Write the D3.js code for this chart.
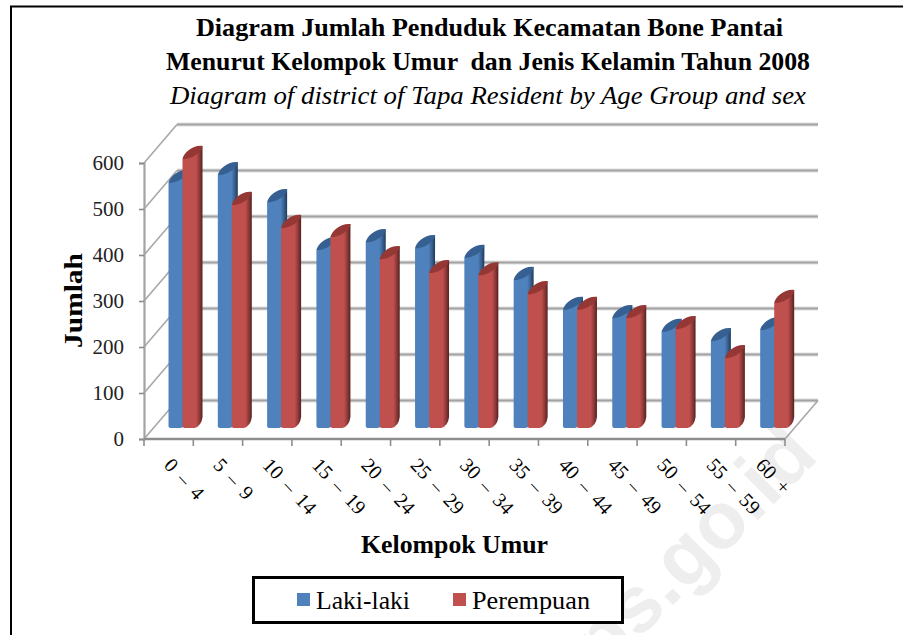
<!DOCTYPE html>
<html>
<head>
<meta charset="utf-8">
<script src="https://cdn.jsdelivr.net/npm/d3@7"></script>
<style>
  html, body { margin: 0; padding: 0; background: #fff; }
  svg { display: block; }
  text { font-family: "Liberation Serif", serif; fill: #000; }
</style>
</head>
<body>
<script>
// data
const ageGroups = ['0 – 4', '5 – 9', '10 – 14', '15 – 19', '20 – 24', '25 – 29', '30 – 34',
  '35 – 39', '40 – 44', '45 – 49', '50 – 54', '55 – 59', '60 +'];
const lakiLaki = [533, 550, 491, 387, 404, 391, 370, 322, 257, 239, 209, 189, 213];
const perempuan = [585, 485, 435, 415, 367, 337, 332, 291, 257, 239, 215, 152, 272];
const seriesNames = ['Laki-laki', 'Perempuan'];
const yTicks = [0, 100, 200, 300, 400, 500, 600];

const titleLines = [
  { text: 'Diagram Jumlah Penduduk Kecamatan Bone Pantai', x: 196, y: 36, len: 587, bold: true },
  { text: 'Menurut Kelompok Umur  dan Jenis Kelamin Tahun 2008', x: 166, y: 70, len: 644, bold: true },
  { text: 'Diagram of district of Tapa Resident by Age Group and sex', x: 170, y: 104, len: 636, italic: true }
];

// basic settings
const width = 903;
const height = 635;
const depthX = 33;
const depthY = 38.5;
const barLift = 11;      // bars stand this far up the floor
const barShift = 24.5;   // first bar from the band edge
const barWidth = 14;
const capX = 6;
const capY = 13;
const colors = { 'Laki-laki': '#4F81BD', 'Perempuan': '#C0504D' };
const capColors = { 'Laki-laki': '#376092', 'Perempuan': '#953735' };
const darkColors = { 'Laki-laki': '#1F3A5C', 'Perempuan': '#562120' };

const x = d3.scaleBand().domain(ageGroups).range([144, 785]);
const xSeries = d3.scaleBand().domain(seriesNames).range([0, barWidth * 2]);
const y = d3.scaleLinear().domain([0, 600]).range([439, 163]);

const svg = d3.select('body').append('svg')
  .attr('width', width)
  .attr('height', height);

// watermark sits behind everything
svg.append('text')
  .attr('transform', 'translate(820,458) rotate(-45)')
  .attr('text-anchor', 'end')
  .style('font-family', '"Liberation Sans", sans-serif')
  .style('font-weight', 'bold')
  .style('font-size', '80px')
  .style('fill', '#EEEEEE')
  .text('bps.go.id');

// outer frame, only left and top are in the crop
svg.append('path')
  .attr('d', d3.line()([[11, height], [11, 6.5], [width, 6.5]]))
  .attr('fill', 'none')
  .attr('stroke', '#000')
  .attr('stroke-width', 2);

// title
svg.append('g').selectAll('text')
  .data(titleLines)
  .join('text')
  .attr('x', d => d.x)
  .attr('y', d => d.y)
  .attr('textLength', d => d.len)
  .attr('lengthAdjust', 'spacingAndGlyphs')
  .style('font-size', '26px')
  .style('font-weight', d => d.bold ? 'bold' : 'normal')
  .style('font-style', d => d.italic ? 'italic' : 'normal')
  .style('white-space', 'pre')
  .text(d => d.text);

// gradients for the cylinders
const defs = svg.append('defs');
seriesNames.forEach((s, i) => {
  const g = defs.append('linearGradient').attr('id', 'grad' + i);
  g.append('stop').attr('offset', '0%').attr('stop-color', colors[s]);
  g.append('stop').attr('offset', '68%').attr('stop-color', colors[s]);
  g.append('stop').attr('offset', '84%').attr('stop-color', d3.interpolateRgb(colors[s], darkColors[s])(0.45));
  g.append('stop').attr('offset', '100%').attr('stop-color', darkColors[s]);
});

// back wall grid
const grid = svg.append('g');
[['#DEDEDE', 4], ['#A3A3A3', 2.2]].forEach(([c, w]) => {
  grid.append('g').selectAll('line')
    .data(yTicks)
    .join('line')
    .attr('x1', x.range()[0] + depthX)
    .attr('x2', x.range()[1] + depthX)
    .attr('y1', d => y(d) - depthY)
    .attr('y2', d => y(d) - depthY)
    .attr('stroke', c)
    .attr('stroke-width', w);
});

// side wall lines
grid.append('g').selectAll('line')
  .data(yTicks)
  .join('line')
  .attr('x1', x.range()[0])
  .attr('x2', x.range()[0] + depthX)
  .attr('y1', d => y(d))
  .attr('y2', d => y(d) - depthY)
  .attr('stroke', '#A8A8A8')
  .attr('stroke-width', 1.6);

// right edge of the floor
grid.append('line')
  .attr('x1', x.range()[1])
  .attr('x2', x.range()[1] + depthX)
  .attr('y1', y(0))
  .attr('y2', y(0) - depthY)
  .attr('stroke', '#A8A8A8')
  .attr('stroke-width', 1.6);

// y axis
const yAxis = svg.append('g')
  .attr('transform', `translate(${x.range()[0]},0)`)
  .call(d3.axisLeft(y).tickValues(yTicks).tickSize(5).tickPadding(15));
yAxis.select('.domain').attr('stroke', '#A3A3A3').attr('stroke-width', 2.2);
yAxis.selectAll('.tick line').attr('stroke', '#8C8C8C').attr('stroke-width', 1.6);
yAxis.selectAll('.tick text')
  .style('font-family', '"Liberation Serif", serif')
  .style('font-size', '21px')
  .style('fill', '#222');

// x axis, ticks fall on the band edges
const xAxis = svg.append('g');
xAxis.append('line')
  .attr('x1', x.range()[0]).attr('x2', x.range()[1])
  .attr('y1', y(0)).attr('y2', y(0))
  .attr('stroke', '#8E8E8E').attr('stroke-width', 2.6);
xAxis.selectAll('.tickmark')
  .data(d3.range(ageGroups.length + 1))
  .join('line')
  .attr('class', 'tickmark')
  .attr('x1', i => x.range()[0] + i * x.step())
  .attr('x2', i => x.range()[0] + i * x.step())
  .attr('y1', y(0))
  .attr('y2', y(0) + 7)
  .attr('stroke', '#8E8E8E')
  .attr('stroke-width', 1.6);
xAxis.selectAll('.ticklabel')
  .data(ageGroups)
  .join('text')
  .attr('class', 'ticklabel')
  .attr('transform', d => `translate(${x(d) + 19},466) rotate(47)`)
  .style('font-size', '20px')
  .style('word-spacing', '4px')
  .text(d => d);

// bars
function barPath(x0, top, base) {
  const w = barWidth;
  return `M${x0},${top}`
    + `L${x0},${base - 2}Q${x0},${base} ${x0 + 3},${base}`
    + `L${x0 + w - 2},${base}`
    + `Q${x0 + w + capX - 1},${base - 2} ${x0 + w + capX},${base - capY + 2}`
    + `L${x0 + w + capX},${top - capY}Z`;
}
function capPath(x0, top) {
  const w = barWidth;
  return `M${x0},${top}`
    + `C${x0 + 1},${top - 6} ${x0 + w - 4},${top - capY - 1} ${x0 + w + capX},${top - capY}`
    + `C${x0 + w + capX},${top - capY + 6} ${x0 + 8},${top + 1} ${x0},${top}Z`;
}

const base = y(0) - barLift;
const barHeight = v => y(0) - y(v);

const groups = svg.append('g').selectAll('g')
  .data(ageGroups.map((a, i) => ({ age: a, values: [lakiLaki[i], perempuan[i]] })))
  .join('g')
  .attr('transform', d => `translate(${x(d.age) + barShift},0)`);

seriesNames.forEach((s, i) => {
  const cell = groups.append('g').attr('transform', `translate(${xSeries(s)},0)`);
  cell.append('path')
    .attr('d', d => barPath(0, base - barHeight(d.values[i]), base))
    .attr('fill', `url(#grad${i})`);
  cell.append('path')
    .attr('d', d => capPath(0, base - barHeight(d.values[i])))
    .attr('fill', capColors[s]);
});

// axis titles
svg.append('text')
  .attr('transform', 'translate(82,348) rotate(-90)')
  .attr('textLength', 95)
  .attr('lengthAdjust', 'spacingAndGlyphs')
  .style('font-size', '26px')
  .style('font-weight', 'bold')
  .text('Jumlah');

svg.append('text')
  .attr('x', 361)
  .attr('y', 553)
  .attr('textLength', 187)
  .attr('lengthAdjust', 'spacingAndGlyphs')
  .style('font-size', '25px')
  .style('font-weight', 'bold')
  .text('Kelompok Umur');

// legend
const legend = svg.append('g');
legend.append('rect')
  .attr('x', 253.5).attr('y', 577.5)
  .attr('width', 369).attr('height', 45)
  .attr('fill', '#fff')
  .attr('stroke', '#000')
  .attr('stroke-width', 3);
const legendX = d3.scaleOrdinal().domain(seriesNames).range([297, 453]);
const legendLen = { 'Laki-laki': 94, 'Perempuan': 118 };
legend.selectAll('.swatch')
  .data(seriesNames)
  .join('rect')
  .attr('class', 'swatch')
  .attr('x', d => legendX(d))
  .attr('y', 593)
  .attr('width', 13)
  .attr('height', 13)
  .attr('fill', d => colors[d]);
legend.selectAll('.legend-label')
  .data(seriesNames)
  .join('text')
  .attr('class', 'legend-label')
  .attr('x', d => legendX(d) + 19)
  .attr('y', 609)
  .attr('textLength', d => legendLen[d])
  .attr('lengthAdjust', 'spacingAndGlyphs')
  .style('font-size', '26px')
  .text(d => d);
</script>
</body>
</html>
